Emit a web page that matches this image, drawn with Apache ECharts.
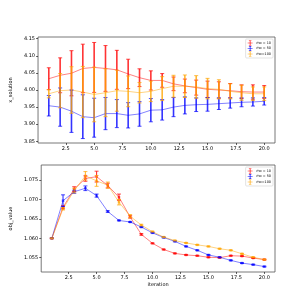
<!DOCTYPE html>
<html><head><meta charset="utf-8">
<script src="https://cdn.jsdelivr.net/npm/echarts@6/dist/echarts.min.js"></script>
<style>html,body{margin:0;padding:0;background:#fff}#c{width:306px;height:306px}</style>
</head><body><div id="c"></div>
<script>
const iters = [1,2,3,4,5,6,7,8,9,10,11,12,13,14,15,16,17,18,19,20];
const seriesNames = ['rho = 10', 'rho = 50', 'rho=100'];
const xTicks = [2.5,5,7.5,10,12.5,15,17.5,20];
const topTicks = [3.85,3.90,3.95,4.00,4.05,4.10,4.15];
const botTicks = [1.055,1.060,1.065,1.070,1.075];

const x_rho10 = [4.033,4.043,4.049,4.063,4.066,4.063,4.059,4.047,4.036,4.028,4.028,4.018,4.012,4.007,4.002,4.000,3.998,3.995,3.994,3.994];
const x_rho10_err = [0.032,0.051,0.066,0.071,0.073,0.067,0.057,0.043,0.026,0.028,0.020,0.020,0.020,0.022,0.024,0.024,0.021,0.020,0.021,0.019];
const x_rho50 = [3.954,3.950,3.938,3.922,3.919,3.931,3.931,3.926,3.930,3.941,3.942,3.950,3.955,3.957,3.958,3.960,3.962,3.964,3.965,3.967];
const x_rho50_err = [0.030,0.056,0.062,0.064,0.057,0.047,0.041,0.037,0.036,0.034,0.030,0.028,0.025,0.020,0.020,0.017,0.015,0.013,0.012,0.011];
const x_rho100 = [3.989,3.998,4.000,3.994,3.987,3.992,3.998,3.996,3.992,3.996,4.004,4.011,4.011,4.009,4.004,4.002,3.996,3.992,3.989,3.989];
const x_rho100_err = [0.012,0.050,0.068,0.075,0.080,0.070,0.060,0.045,0.030,0.030,0.035,0.032,0.033,0.033,0.030,0.028,0.022,0.022,0.020,0.020];

const obj_rho10 = [1.0600,1.0680,1.0727,1.0754,1.0759,1.0736,1.0706,1.0655,1.0610,1.0587,1.0571,1.0561,1.0557,1.0555,1.0551,1.0550,1.0555,1.0554,1.0549,1.0545];
const obj_rho10_err = [0.0001,0.0004,0.0006,0.0007,0.0014,0.0006,0.0008,0.0003,0.0002,0.0001,0.0001,0.0001,0.0001,0.0001,0.0001,0.0001,0.0001,0.0001,0.0001,0.0001];
const obj_rho50 = [1.0600,1.0697,1.0720,1.0729,1.0710,1.0669,1.0646,1.0642,1.0629,1.0614,1.0602,1.0592,1.0579,1.0569,1.0557,1.0551,1.0543,1.0536,1.0532,1.0527];
const obj_rho50_err = [0.0001,0.0015,0.0004,0.0006,0.0004,0.0002,0.0001,0.0001,0.0001,0.0001,0.0001,0.0001,0.0001,0.0001,0.0001,0.0001,0.0001,0.0001,0.0001,0.0001];
const obj_rho100 = [1.0600,1.0676,1.0723,1.0761,1.0748,1.0737,1.0693,1.0657,1.0634,1.0617,1.0603,1.0594,1.0588,1.0583,1.0579,1.0573,1.0569,1.0560,1.0551,1.0545];
const obj_rho100_err = [0.0001,0.0003,0.0006,0.0011,0.0014,0.0008,0.0007,0.0004,0.0002,0.0001,0.0001,0.0001,0.0001,0.0001,0.0001,0.0001,0.0001,0.0001,0.0001,0.0001];

const colors = ['#ff0000', '#0000ff', '#ffa500'];
const FONT = 'DejaVu Sans';

function errData(v, e) { return iters.map((x, i) => [x, v[i] - e[i], v[i] + e[i]]); }
function lineData(v) { return iters.map((x, i) => [x, v[i]]); }

function errSeries(name, color, v, e, gi, lw) {
  return {
    name: name, type: 'custom', xAxisIndex: gi, yAxisIndex: gi, z: 3,
    data: errData(v, e),
    encode: { x: 0, y: [1, 2] },
    itemStyle: { color: color },
    renderItem: function (params, api) {
      const x = api.value(0);
      const a = api.coord([x, api.value(2)]);
      const b = api.coord([x, api.value(1)]);
      const cap = 2;
      const st = { stroke: color, lineWidth: lw, opacity: 0.8 };
      return { type: 'group', children: [
        { type: 'line', shape: { x1: a[0], y1: a[1], x2: b[0], y2: b[1] }, style: st },
        { type: 'line', shape: { x1: a[0] - cap, y1: a[1], x2: a[0] + cap, y2: a[1] }, style: { stroke: color, lineWidth: 0.9, opacity: 0.8 } },
        { type: 'line', shape: { x1: b[0] - cap, y1: b[1], x2: b[0] + cap, y2: b[1] }, style: { stroke: color, lineWidth: 0.9, opacity: 0.8 } }
      ]};
    }
  };
}
function lineSeries(name, color, v, gi, markers) {
  return {
    name: name, type: 'line', xAxisIndex: gi, yAxisIndex: gi, z: 2,
    data: lineData(v),
    showSymbol: markers, symbol: 'rect', symbolSize: 2.5,
    itemStyle: { color: color, opacity: 0.6 },
    lineStyle: { color: color, width: 0.9, opacity: 0.55 },
    silent: true
  };
}

const topVals = [x_rho10, x_rho50, x_rho100], topErrs = [x_rho10_err, x_rho50_err, x_rho100_err];
const botVals = [obj_rho10, obj_rho50, obj_rho100], botErrs = [obj_rho10_err, obj_rho50_err, obj_rho100_err];

const series = [];
for (let k = 0; k < 3; k++) {
  series.push(lineSeries(seriesNames[k], colors[k], topVals[k], 0, false));
  series.push(errSeries(seriesNames[k], colors[k], topVals[k], topErrs[k], 0, 1.6));
}
for (let k = 0; k < 3; k++) {
  series.push(lineSeries(seriesNames[k], colors[k], botVals[k], 1, true));
  series.push(errSeries(seriesNames[k], colors[k], botVals[k], botErrs[k], 1, 1.1));
}

function xAxis(gi, name) {
  return {
    type: 'value', gridIndex: gi, min: 0.05, max: 20.95,
    name: name, nameLocation: 'middle', nameGap: 10,
    nameTextStyle: { fontFamily: FONT, fontSize: 5, color: '#000' },
    axisLine: { show: false }, splitLine: { show: false },
    axisTick: { show: true, length: 2, customValues: xTicks, lineStyle: { color: '#000', width: 0.6 } },
    axisLabel: { customValues: xTicks, fontFamily: FONT, fontSize: 5, color: '#000', margin: 3,
      formatter: v => Number(v).toFixed(1) }
  };
}
function yAxis(gi, min, max, ticks, dec, name) {
  return {
    type: 'value', gridIndex: gi, min: min, max: max,
    name: name, nameLocation: 'middle', nameGap: 17, nameRotate: 90,
    nameTextStyle: { fontFamily: FONT, fontSize: 5, color: '#000' },
    axisLine: { show: false }, splitLine: { show: false },
    axisTick: { show: true, length: 2, customValues: ticks, lineStyle: { color: '#000', width: 0.6 } },
    axisLabel: { customValues: ticks, fontFamily: FONT, fontSize: 5, color: '#000', margin: 3,
      formatter: v => Number(v).toFixed(dec) }
  };
}

const icon = 'path://M0,4.4H10V5.6H0Z M4.3,0H5.7V10H4.3Z M2.5,0H7.5V1H2.5Z M2.5,9H7.5V10H2.5Z';
function legend(top) {
  return {
    data: seriesNames.map((n, k) => ({ name: n, icon: icon, itemStyle: { color: colors[k], opacity: 1 } })),
    orient: 'vertical', right: 33, top: top, itemWidth: 6, itemHeight: 5, itemGap: 0.5,
    padding: [1.5, 2, 1.5, 2], borderColor: '#d0d0d0', borderWidth: 0.6, borderRadius: 1,
    textStyle: { fontFamily: FONT, fontSize: 3.4, color: '#000', padding: [0, 0, 0, -2] },
    selectedMode: false
  };
}

const chart = echarts.init(document.getElementById('c'), null, { renderer: 'canvas' });
chart.setOption({
  animation: false,
  backgroundColor: '#fff',
  grid: [
    { left: 38, right: 31, top: 37, height: 106, show: true, borderColor: '#555', borderWidth: 0.8, backgroundColor: 'transparent' },
    { left: 38, right: 31, top: 165, height: 107, show: true, borderColor: '#555', borderWidth: 0.8, backgroundColor: 'transparent' }
  ],
  xAxis: [xAxis(0, ''), xAxis(1, 'iteration')],
  yAxis: [yAxis(0, 3.845, 4.155, topTicks, 2, 'x_solution'), yAxis(1, 1.0513, 1.0789, botTicks, 3, 'obj_value')],
  legend: [legend(39), legend(167)],
  series: series
});
</script></body></html>
